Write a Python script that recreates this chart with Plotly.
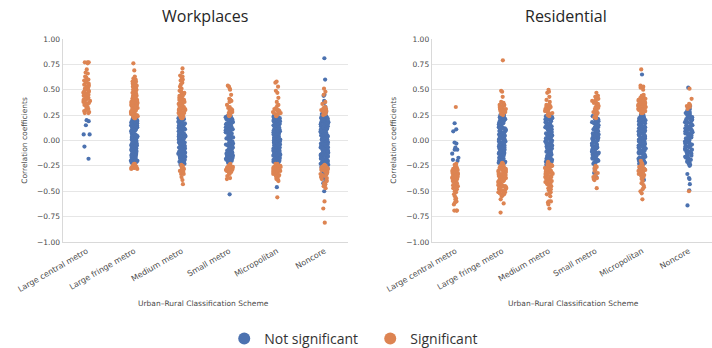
import plotly.graph_objects as go

categories = ["Large central metro", "Large fringe metro", "Medium metro",
              "Small metro", "Micropolitan", "Noncore"]
y_ticks = [-1.0, -0.75, -0.5, -0.25, 0.0, 0.25, 0.5, 0.75, 1.0]
panel_titles = ["Workplaces", "Residential"]
legend_names = ["Not significant", "Significant"]

# ---------------- Workplaces ----------------
wp_lc_ns = [0.20, 0.19, 0.15, 0.06, 0.06, -0.06, -0.18]
wp_lc_s = [0.77, 0.77, 0.77, 0.76, 0.70, 0.67, 0.66, 0.63, 0.60, 0.59, 0.59, 0.58, 0.57, 0.56,
           0.55, 0.54, 0.52, 0.51, 0.50, 0.50, 0.49, 0.48, 0.48, 0.47, 0.46, 0.45, 0.45, 0.44,
           0.43, 0.42, 0.42, 0.41, 0.41, 0.40, 0.39, 0.38, 0.37, 0.36, 0.35, 0.34, 0.33, 0.31,
           0.30, 0.29, 0.28, 0.27, 0.27, 0.53, 0.44, 0.38, 0.47, 0.40, 0.62, 0.36, 0.32]
wp_lf_ns = [0.22, 0.20, 0.17, 0.15, 0.14, 0.11, 0.08, 0.07, 0.03, 0.02, -0.01, -0.04, -0.05, -0.09,
            -0.12, -0.13, -0.16, -0.19, -0.20, -0.22, 0.21, 0.18, 0.16, 0.12, 0.10, 0.09, 0.05, 0.04,
            0.00, -0.02, -0.03, -0.07, -0.08, -0.11, -0.14, -0.15, -0.18, -0.21, -0.22, 0.19, 0.13,
            0.06, 0.01, -0.06, -0.10, -0.17, 0.20, 0.15, 0.11, 0.08, 0.03, -0.02, -0.05, -0.12, -0.16,
            -0.20, 0.22, 0.17, 0.12, 0.07, 0.04, -0.01, -0.08, -0.13, -0.18, -0.21, 0.19, 0.14, 0.10,
            0.05, 0.00, -0.04, -0.09, -0.15, -0.19, 0.21, 0.16, 0.09, 0.02, -0.03, -0.07, -0.11, -0.14,
            -0.17, -0.22, 0.18, 0.13, 0.06, -0.06, -0.10, -0.16, -0.20, 0.20, 0.15, 0.08, 0.01, -0.05,
            -0.12, -0.18, -0.21, 0.17, 0.11, 0.03, -0.02, -0.09, -0.15, 0.14, 0.04, -0.07, -0.19]
wp_lf_s = [0.76, 0.69, 0.63, 0.61, 0.60, 0.59, 0.58, 0.58, 0.57, 0.56, 0.55, 0.55, 0.53, 0.52, 0.52,
           0.51, 0.50, 0.49, 0.49, 0.48, 0.47, 0.46, 0.46, 0.45, 0.44, 0.44, 0.43, 0.42, 0.41, 0.41,
           0.40, 0.39, 0.39, 0.38, 0.37, 0.37, 0.36, 0.35, 0.35, 0.34, 0.33, 0.33, 0.32, 0.31, 0.31,
           0.30, 0.29, 0.29, 0.28, 0.27, 0.27, 0.26, 0.25, 0.25, 0.24, 0.23, 0.23, 0.22, 0.48, 0.43,
           0.38, 0.34, 0.30, 0.26, 0.24, 0.36, 0.28, 0.32, 0.40, 0.45, 0.54, 0.57, 0.50, 0.42, 0.27,
           0.25, 0.22, 0.31, 0.35, 0.29,
           -0.23, -0.24, -0.25, -0.25, -0.26, -0.26, -0.27, -0.27, -0.28, -0.28, -0.24, -0.26, -0.23, -0.27]
wp_mm_ns = [0.22, 0.21, 0.19, 0.18, 0.16, 0.13, 0.12, 0.10, 0.08, 0.06, 0.05, 0.02, 0.01, -0.02, -0.03,
            -0.05, -0.08, -0.10, -0.11, -0.13, -0.16, -0.17, -0.19, -0.21, -0.23, 0.20, 0.17, 0.15, 0.14,
            0.11, 0.09, 0.07, 0.04, 0.03, 0.00, -0.01, -0.04, -0.06, -0.07, -0.09, -0.12, -0.14, -0.15,
            -0.18, -0.20, -0.22, -0.24, 0.22, 0.18, 0.13, 0.10, 0.06, 0.02, -0.02, -0.06, -0.10, -0.14,
            -0.18, -0.22, 0.21, 0.16, 0.12, 0.08, 0.04, 0.00, -0.04, -0.08, -0.13, -0.17, -0.21, 0.19,
            0.15, 0.11, 0.07, 0.03, -0.01, -0.05, -0.09, -0.12, -0.16, -0.20, -0.24, 0.20, 0.14, 0.09,
            0.05, 0.01, -0.03, -0.07, -0.11, -0.15, -0.19, -0.23, 0.17, 0.12, 0.06, -0.02, -0.08, -0.14,
            -0.19, 0.21, 0.13, 0.04, -0.05, -0.12, -0.18]
wp_mm_s = [0.71, 0.67, 0.64, 0.63, 0.62, 0.60, 0.59, 0.57, 0.53, 0.51, 0.50, 0.49, 0.48, 0.47, 0.46,
           0.45, 0.44, 0.44, 0.43, 0.42, 0.41, 0.40, 0.40, 0.39, 0.38, 0.37, 0.37, 0.36, 0.35, 0.34,
           0.34, 0.33, 0.32, 0.31, 0.31, 0.30, 0.29, 0.28, 0.28, 0.27, 0.26, 0.25, 0.25, 0.24, 0.23,
           0.22, 0.22, 0.38, 0.33, 0.29, 0.26, 0.24, 0.35, 0.31, 0.27, 0.42, 0.47, 0.23, 0.30, 0.55,
           -0.25, -0.26, -0.27, -0.30, -0.32, -0.33, -0.33, -0.31, -0.36, -0.39, -0.43, -0.28, -0.25,
           -0.24, -0.29, -0.26]
wp_sm_ns = [0.24, 0.22, 0.21, 0.19, 0.17, 0.15, 0.14, 0.12, 0.10, 0.08, 0.07, 0.05, 0.03, 0.01, 0.00,
            -0.02, -0.04, -0.06, -0.07, -0.09, -0.11, -0.13, -0.14, -0.16, -0.18, -0.20, -0.22, 0.23,
            0.20, 0.18, 0.16, 0.13, 0.11, 0.09, 0.06, 0.04, 0.02, -0.01, -0.03, -0.05, -0.08, -0.10,
            -0.12, -0.15, -0.17, -0.19, -0.21, 0.22, 0.17, 0.12, 0.08, 0.03, -0.02, -0.07, -0.12, -0.17,
            -0.21, 0.24, 0.19, 0.14, 0.10, 0.05, 0.00, -0.05, -0.10, -0.15, -0.20, 0.21, 0.15, 0.09,
            0.02, -0.04, -0.09, -0.14, -0.18, 0.18, 0.11, 0.04, -0.03, -0.11, -0.16, -0.22, 0.13, 0.06,
            -0.08, -0.13, -0.19, -0.29, -0.53]
wp_sm_s = [0.54, 0.53, 0.51, 0.50, 0.45, 0.41, 0.40, 0.39, 0.38, 0.35, 0.33, 0.31, 0.30, 0.30, 0.29,
           0.28, 0.27, 0.26, 0.25, 0.25, 0.24, 0.28, 0.32, 0.26,
           -0.23, -0.24, -0.25, -0.26, -0.27, -0.27, -0.28, -0.28, -0.29, -0.29, -0.30, -0.30, -0.31,
           -0.32, -0.33, -0.35, -0.38, -0.37, -0.25, -0.27, -0.24, -0.26]
wp_mp_ns = [0.25, 0.22, 0.21, 0.18, 0.17, 0.14, 0.12, 0.11, 0.08, 0.07, 0.04, 0.03, 0.00, -0.02, -0.03,
            -0.06, -0.07, -0.10, -0.12, -0.13, -0.16, -0.18, -0.19, -0.22, -0.23, 0.24, 0.23, 0.20,
            0.19, 0.16, 0.15, 0.13, 0.10, 0.09, 0.06, 0.05, 0.02, 0.01, -0.01, -0.04, -0.05, -0.08,
            -0.09, -0.11, -0.14, -0.15, -0.17, -0.20, -0.21, 0.25, 0.21, 0.17, 0.12, 0.08, 0.04, 0.00,
            -0.04, -0.08, -0.12, -0.17, -0.21, 0.23, 0.19, 0.15, 0.10, 0.06, 0.02, -0.02, -0.06, -0.10,
            -0.14, -0.19, -0.23, 0.22, 0.18, 0.14, 0.09, 0.05, 0.01, -0.03, -0.07, -0.11, -0.15, -0.18,
            -0.22, 0.24, 0.20, 0.16, 0.11, 0.07, 0.03, -0.01, -0.05, -0.09, -0.13, -0.16, -0.20, 0.21,
            0.13, 0.06, -0.02, -0.09, -0.17, 0.19, 0.12, 0.04, -0.04, -0.12, -0.20, 0.23, 0.15, 0.08,
            0.00, -0.07, -0.14, -0.21, 0.17, 0.10, 0.02, -0.06, -0.15, -0.46]
wp_mp_s = [0.58, 0.57, 0.53, 0.49, 0.47, 0.42, 0.38, 0.35, 0.34, 0.32, 0.31, 0.30, 0.29, 0.28, 0.27,
           0.26, 0.25, 0.24, 0.28, 0.26, 0.30, 0.25, 0.27,
           -0.23, -0.24, -0.24, -0.25, -0.25, -0.26, -0.26, -0.27, -0.27, -0.28, -0.28, -0.29, -0.29,
           -0.30, -0.30, -0.31, -0.31, -0.32, -0.33, -0.33, -0.34, -0.35, -0.36, -0.37, -0.38, -0.39,
           -0.40, -0.24, -0.26, -0.28, -0.25, -0.27, -0.23, -0.29, -0.32, -0.35, -0.38, -0.30, -0.26,
           -0.56]
wp_nc_ns = [0.28, 0.26, 0.23, 0.22, 0.19, 0.17, 0.15, 0.13, 0.10, 0.09, 0.06, 0.04, 0.02, 0.00, -0.03,
            -0.04, -0.07, -0.09, -0.11, -0.13, -0.16, -0.17, -0.20, -0.22, -0.24, -0.26, -0.29, 0.27,
            0.24, 0.21, 0.20, 0.18, 0.16, 0.14, 0.11, 0.08, 0.07, 0.05, 0.03, 0.01, -0.01, -0.02, -0.05,
            -0.06, -0.08, -0.10, -0.12, -0.14, -0.15, -0.18, -0.19, -0.21, -0.23, -0.25, -0.28, -0.30,
            0.26, 0.22, 0.18, 0.14, 0.10, 0.06, 0.02, -0.02, -0.06, -0.10, -0.14, -0.18, -0.22, -0.26,
            0.28, 0.24, 0.20, 0.16, 0.12, 0.08, 0.04, 0.00, -0.04, -0.08, -0.12, -0.16, -0.20, -0.24,
            -0.28, 0.25, 0.21, 0.17, 0.13, 0.09, 0.05, 0.01, -0.03, -0.07, -0.11, -0.15, -0.19, -0.23,
            -0.27, 0.27, 0.23, 0.19, 0.15, 0.11, 0.07, 0.03, -0.01, -0.05, -0.09, -0.13, -0.17, -0.21,
            -0.25, -0.29, 0.26, 0.20, 0.14, 0.08, 0.02, -0.04, -0.10, -0.16, -0.22, -0.27, 0.24, 0.18,
            0.12, 0.06, 0.00, -0.06, -0.12, -0.18, -0.24, -0.30, 0.22, 0.16, 0.10, 0.04, -0.02, -0.08,
            -0.14, -0.20, -0.26, 0.25, 0.17, 0.09, 0.01, -0.07, -0.15, -0.23, 0.21, 0.13, 0.05, -0.03,
            -0.11, -0.19, -0.27, 0.81, 0.60, 0.45, 0.44, 0.39, 0.37, 0.33, 0.31, 0.30, -0.32, -0.34,
            -0.36, -0.38, -0.41, -0.42, -0.44, -0.50]
wp_nc_s = [0.51, 0.48, 0.45, 0.38, 0.36, 0.33, 0.32, 0.31, 0.30, 0.29, 0.28, 0.27, 0.26, 0.25, 0.30,
           0.28, 0.32, 0.29,
           -0.24, -0.25, -0.25, -0.26, -0.26, -0.27, -0.27, -0.28, -0.28, -0.29, -0.30, -0.30, -0.31,
           -0.32, -0.33, -0.34, -0.35, -0.36, -0.37, -0.38, -0.40, -0.42, -0.44, -0.45, -0.47, -0.26,
           -0.28, -0.25, -0.29, -0.31, -0.27, -0.33, -0.35, -0.39, -0.43, -0.60, -0.67, -0.81]

# ---------------- Residential ----------------
rs_lc_ns = [0.17, 0.11, 0.09, -0.02, -0.03, -0.07, -0.09, -0.09, -0.13, -0.17, -0.19, -0.20]
rs_lc_s = [0.33, -0.23, -0.24, -0.25, -0.26, -0.27, -0.28, -0.29, -0.30, -0.31, -0.32, -0.32, -0.33,
           -0.33, -0.34, -0.35, -0.35, -0.36, -0.37, -0.37, -0.38, -0.38, -0.39, -0.40, -0.40, -0.41,
           -0.42, -0.43, -0.44, -0.45, -0.46, -0.47, -0.48, -0.50, -0.51, -0.53, -0.55, -0.57, -0.58,
           -0.60, -0.61, -0.63, -0.69, -0.69, -0.69, -0.26, -0.29, -0.31, -0.34, -0.36, -0.39, -0.42,
           -0.45, -0.28, -0.33]
rs_lf_ns = [0.25, 0.23, 0.21, 0.20, 0.18, 0.16, 0.14, 0.12, 0.10, 0.09, 0.07, 0.05, 0.03, 0.01, 0.00,
            -0.02, -0.04, -0.06, -0.08, -0.10, -0.12, -0.13, -0.15, -0.17, -0.19, -0.21, 0.24, 0.22,
            0.19, 0.17, 0.15, 0.13, 0.11, 0.08, 0.06, 0.04, 0.02, -0.01, -0.03, -0.05, -0.07, -0.09,
            -0.11, -0.14, -0.16, -0.18, -0.20, -0.22, 0.23, 0.18, 0.14, 0.10, 0.06, 0.02, -0.02, -0.06,
            -0.10, -0.14, -0.18, -0.22, 0.21, 0.16, 0.12, 0.07, 0.03, -0.01, -0.05, -0.09, -0.13, -0.17,
            -0.21, 0.20, 0.13, 0.05, -0.03, -0.11, -0.19, 0.25, 0.17, 0.09, 0.01, -0.07, -0.15, 0.22,
            0.11, 0.04, -0.04, -0.12, -0.20, 0.35, 0.29, 0.27]
rs_lf_s = [0.79, 0.49, 0.48, 0.43, 0.38, 0.37, 0.36, 0.35, 0.34, 0.33, 0.32, 0.31, 0.30, 0.30, 0.29,
           0.28, 0.27, 0.26, 0.25, 0.33, 0.31, 0.28, 0.35, 0.27, 0.29, 0.32, 0.26,
           -0.22, -0.23, -0.24, -0.25, -0.26, -0.27, -0.28, -0.29, -0.30, -0.31, -0.32, -0.33, -0.34,
           -0.35, -0.36, -0.37, -0.38, -0.39, -0.40, -0.41, -0.42, -0.43, -0.44, -0.45, -0.46, -0.47,
           -0.48, -0.49, -0.50, -0.51, -0.52, -0.53, -0.54, -0.55, -0.24, -0.27, -0.30, -0.33, -0.36,
           -0.39, -0.42, -0.45, -0.48, -0.51, -0.53, -0.23, -0.26, -0.29, -0.32, -0.35, -0.38, -0.41,
           -0.44, -0.47, -0.50, -0.52, -0.25, -0.31, -0.37, -0.43, -0.49, -0.28, -0.34, -0.40, -0.46,
           -0.58, -0.62, -0.71]
rs_mm_ns = [0.25, 0.24, 0.22, 0.20, 0.18, 0.17, 0.15, 0.13, 0.11, 0.10, 0.08, 0.06, 0.04, 0.02, 0.01,
            -0.01, -0.03, -0.05, -0.07, -0.08, -0.10, -0.12, -0.14, -0.16, -0.18, -0.19, -0.21, 0.23,
            0.21, 0.19, 0.16, 0.14, 0.12, 0.09, 0.07, 0.05, 0.03, 0.00, -0.02, -0.04, -0.06, -0.09,
            -0.11, -0.13, -0.15, -0.17, -0.20, -0.22, 0.24, 0.19, 0.15, 0.11, 0.06, 0.02, -0.02, -0.06,
            -0.11, -0.15, -0.19, 0.22, 0.17, 0.13, 0.08, 0.04, 0.00, -0.04, -0.08, -0.13, -0.17, -0.21,
            0.20, 0.12, 0.05, -0.03, -0.10, -0.18, 0.21, 0.14, 0.07, -0.01, -0.07, -0.14, -0.24, -0.25]
rs_mm_s = [0.50, 0.48, 0.47, 0.43, 0.40, 0.38, 0.35, 0.34, 0.34, 0.33, 0.32, 0.31, 0.30, 0.29, 0.28,
           0.27, 0.26, 0.25, 0.24, 0.33, 0.29, 0.31, 0.27, 0.35, 0.26,
           -0.21, -0.22, -0.23, -0.24, -0.25, -0.26, -0.27, -0.28, -0.29, -0.30, -0.31, -0.32, -0.33,
           -0.34, -0.35, -0.36, -0.37, -0.38, -0.39, -0.40, -0.41, -0.42, -0.44, -0.45, -0.47, -0.49,
           -0.51, -0.53, -0.55, -0.23, -0.26, -0.29, -0.32, -0.35, -0.38, -0.41, -0.24, -0.27, -0.30,
           -0.33, -0.36, -0.39, -0.43, -0.48, -0.25, -0.31, -0.37, -0.28, -0.34, -0.52, -0.60, -0.60,
           -0.61, -0.63, -0.67]
rs_sm_ns = [0.25, 0.23, 0.21, 0.19, 0.18, 0.16, 0.14, 0.12, 0.10, 0.08, 0.06, 0.05, 0.03, 0.01, -0.01,
            -0.03, -0.05, -0.06, -0.08, -0.10, -0.12, -0.14, -0.16, -0.18, -0.20, -0.22, -0.24, 0.24,
            0.22, 0.20, 0.17, 0.15, 0.13, 0.11, 0.09, 0.07, 0.04, 0.02, 0.00, -0.02, -0.04, -0.07,
            -0.09, -0.11, -0.13, -0.15, -0.17, -0.19, -0.21, -0.23, 0.21, 0.16, 0.12, 0.07, 0.03, -0.01,
            -0.06, -0.10, -0.14, -0.19, 0.23, 0.18, 0.13, 0.09, 0.04, 0.00, -0.04, -0.08, -0.12, -0.17,
            -0.21, 0.19, 0.10, 0.02, -0.07, -0.15, 0.14, 0.06, -0.03, -0.11, -0.26, -0.32, -0.36, -0.28]
rs_sm_s = [0.47, 0.44, 0.43, 0.42, 0.41, 0.40, 0.39, 0.38, 0.36, 0.35, 0.34, 0.33, 0.32, 0.30, 0.29,
           0.28, 0.27, 0.26, 0.25, 0.24, 0.23, 0.22, 0.37, 0.31, 0.33, 0.27,
           -0.26, -0.27, -0.29, -0.32, -0.34, -0.36, -0.37, -0.38, -0.39, -0.47, -0.25, -0.30]
rs_mp_ns = [0.27, 0.25, 0.24, 0.22, 0.20, 0.19, 0.17, 0.15, 0.13, 0.12, 0.10, 0.08, 0.07, 0.05, 0.03,
            0.02, 0.00, -0.02, -0.03, -0.05, -0.07, -0.08, -0.10, -0.12, -0.13, -0.15, -0.17, -0.18,
            -0.20, -0.22, -0.23, -0.25, 0.26, 0.23, 0.21, 0.18, 0.16, 0.14, 0.11, 0.09, 0.06, 0.04,
            0.01, -0.01, -0.04, -0.06, -0.09, -0.11, -0.14, -0.16, -0.19, -0.21, -0.24, 0.27, 0.22,
            0.17, 0.12, 0.07, 0.02, -0.03, -0.08, -0.13, -0.18, -0.23, 0.25, 0.20, 0.15, 0.10, 0.05,
            0.00, -0.05, -0.10, -0.15, -0.20, -0.25, 0.24, 0.18, 0.13, 0.08, 0.03, -0.02, -0.07, -0.12,
            -0.17, -0.22, 0.26, 0.21, 0.14, 0.09, 0.04, -0.01, -0.06, -0.11, -0.16, -0.21, 0.23, 0.16,
            0.10, 0.03, -0.04, -0.10, -0.17, -0.24, 0.19, 0.11, 0.01, -0.09, -0.19, -0.27, -0.28, -0.30,
            -0.31, -0.33, -0.35, -0.34, -0.29, -0.38, -0.39, 0.65]
rs_mp_s = [0.70, 0.54, 0.53, 0.52, 0.50, 0.45, 0.44, 0.43, 0.42, 0.42, 0.41, 0.40, 0.40, 0.39, 0.38,
           0.38, 0.37, 0.36, 0.36, 0.35, 0.35, 0.34, 0.34, 0.33, 0.33, 0.32, 0.32, 0.31, 0.31, 0.30,
           0.30, 0.29, 0.29, 0.28, 0.28, 0.27, 0.27, 0.39, 0.37, 0.35, 0.33, 0.31, 0.29, 0.36, 0.32,
           0.30, 0.34, 0.28, 0.41, 0.38,
           -0.20, -0.22, -0.24, -0.25, -0.27, -0.28, -0.29, -0.30, -0.31, -0.32, -0.33, -0.34, -0.35,
           -0.36, -0.38, -0.40, -0.42, -0.44, -0.46, -0.48, -0.50, -0.52, -0.58, -0.26, -0.30, -0.33,
           -0.37, -0.23, -0.28, -0.31]
rs_nc_ns = [0.52, 0.34, 0.33, 0.31, 0.29, 0.28, 0.27, 0.26, 0.25, 0.24, 0.23, 0.22, 0.21, 0.20, 0.19,
            0.18, 0.17, 0.16, 0.15, 0.14, 0.13, 0.12, 0.11, 0.10, 0.09, 0.08, 0.07, 0.06, 0.05, 0.04,
            0.03, 0.02, 0.01, 0.00, -0.01, -0.02, -0.03, -0.04, -0.05, -0.06, -0.07, -0.08, -0.09,
            -0.10, -0.11, -0.12, -0.13, -0.14, -0.15, -0.16, -0.17, -0.18, -0.19, -0.20, -0.21, -0.23,
            -0.24, -0.25, 0.27, 0.24, 0.21, 0.18, 0.15, 0.12, 0.09, 0.06, 0.03, 0.00, -0.03, -0.06,
            -0.09, -0.12, -0.15, -0.18, -0.22, 0.20, 0.14, 0.07, 0.01, -0.05, -0.11, -0.17, 0.23, 0.10,
            -0.02, -0.33, -0.37, -0.38, -0.43, -0.49, -0.64]
rs_nc_s = [0.51, 0.41, 0.36, 0.35, 0.34, 0.33, 0.31, -0.50]

wp_not_sig = [wp_lc_ns, wp_lf_ns, wp_mm_ns, wp_sm_ns, wp_mp_ns, wp_nc_ns]
wp_sig = [wp_lc_s, wp_lf_s, wp_mm_s, wp_sm_s, wp_mp_s, wp_nc_s]
rs_not_sig = [rs_lc_ns, rs_lf_ns, rs_mm_ns, rs_sm_ns, rs_mp_ns, rs_nc_ns]
rs_sig = [rs_lc_s, rs_lf_s, rs_mm_s, rs_sm_s, rs_mp_s, rs_nc_s]

BLUE = "#4C72B0"
ORANGE = "#DD8452"
CLEAR = "rgba(0,0,0,0)"
TXT = "#4a4a4a"


def flatten(groups):
    xs, ys = [], []
    for cat, vals in zip(categories, groups):
        xs.extend([cat] * len(vals))
        ys.extend(vals)
    return xs, ys


fig = go.Figure()
panels = [(wp_not_sig, wp_sig, "x", "y"), (rs_not_sig, rs_sig, "x2", "y2")]
for pi, (ns, s, xa, ya) in enumerate(panels):
    for gi, (groups, color) in enumerate([(ns, BLUE), (s, ORANGE)]):
        xs, ys = flatten(groups)
        fig.add_trace(go.Box(
            x=xs, y=ys, xaxis=xa, yaxis=ya,
            name=legend_names[gi], legendgroup=legend_names[gi], showlegend=(pi == 0),
            boxpoints="all", jitter=1, pointpos=0, width=0.17,
            fillcolor=CLEAR, line=dict(color=CLEAR, width=0),
            marker=dict(color=color, size=4.2, line=dict(width=0)),
            hoveron="points",
        ))

tick_font = dict(family="DejaVu Sans", size=7.5, color=TXT)
common_x = dict(type="category", categoryorder="array", categoryarray=categories,
                range=[-0.5, 5.5], tickangle=-30, automargin=False,
                tickfont=dict(family="DejaVu Sans", size=8, color=TXT),
                showgrid=False, showline=True, linecolor="#d9d9d9", linewidth=1.5, ticks="",
                zeroline=False)
common_y = dict(range=[-1.0, 1.0], tickvals=y_ticks, tickformat=".2f", tickfont=tick_font,
                automargin=False,
                showgrid=True, gridcolor="#e6e6e6", gridwidth=1, showline=True,
                linecolor="#d9d9d9", linewidth=1.5, ticks="", zeroline=False,
                domain=[0.3046, 0.888])


def note(text, x, y, size=7.5, family="DejaVu Sans", color=TXT, angle=0):
    return dict(text=text, x=x, y=y, xref="paper", yref="paper", showarrow=False,
                xanchor="center", yanchor="middle", textangle=angle,
                font=dict(family=family, size=size, color=color))


fig.update_layout(
    width=712, height=348,
    margin=dict(l=0, r=0, t=0, b=0, autoexpand=False),
    paper_bgcolor="white", plot_bgcolor="white",
    boxmode="overlay",
    xaxis=dict(domain=[0.0885, 0.489], anchor="y", **common_x),
    xaxis2=dict(domain=[0.607, 1.0], anchor="y2", **common_x),
    yaxis=dict(anchor="x", **common_y),
    yaxis2=dict(anchor="x2", **common_y),
    showlegend=True,
    legend=dict(orientation="h", x=0.52, xanchor="center", y=0.026, yanchor="middle",
                font=dict(family="Open Sans", size=14, color="#333333"),
                itemsizing="constant", bgcolor="rgba(0,0,0,0)", entrywidth=101),
    annotations=[
        note(panel_titles[0], 0.288, 0.954, size=16, family="Open Sans", color="#262626"),
        note(panel_titles[1], 0.795, 0.954, size=16, family="Open Sans", color="#262626"),
        note("Correlation coefficients", 0.035, 0.598, angle=-90),
        note("Correlation coefficients", 0.553, 0.598, angle=-90),
        note("Urban\u2013Rural Classification Scheme", 0.2865, 0.129),
        note("Urban\u2013Rural Classification Scheme", 0.805, 0.129),
    ],
)

fig.write_html("out.html", config={"displayModeBar": False, "staticPlot": True},
               post_script="document.body.style.margin='0';document.body.style.overflow='hidden';")
